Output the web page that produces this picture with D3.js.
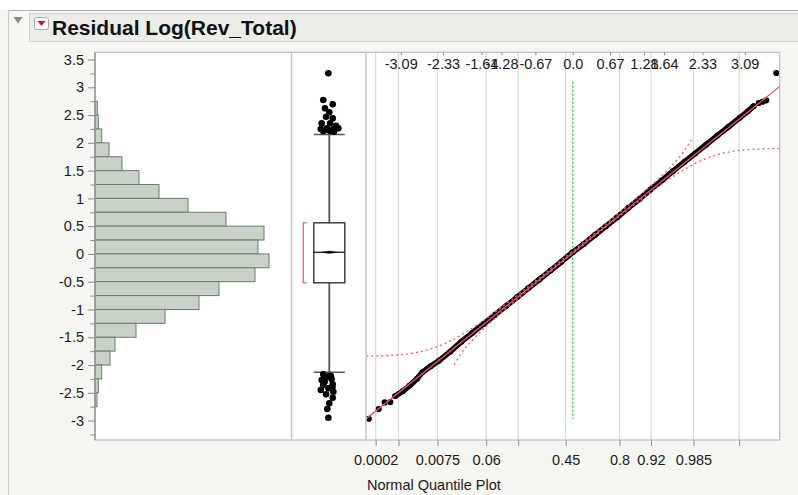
<!DOCTYPE html>
<html><head><meta charset="utf-8">
<script src="https://cdn.jsdelivr.net/npm/d3@7"></script>
<style>
html,body{margin:0;padding:0;background:#f6f6f2;}
svg{display:block;}
text{font-family:"Liberation Sans",Arial,Helvetica,sans-serif;}
</style></head><body>
<svg id="chart" width="798" height="495"></svg>
<script>
// ---------------- data ----------------
const title = "Residual Log(Rev_Total)";
const xAxisTitle = "Normal Quantile Plot";

const yTickValues = [3.5,3,2.5,2,1.5,1,0.5,0,-0.5,-1,-1.5,-2,-2.5,-3];
const yTickLabels = ["3.5","3","2.5","2","1.5","1","0.5","0","-0.5","-1","-1.5","-2","-2.5","-3"];
const yMinorTicks = [3.25,2.75,2.25,1.75,1.25,0.75,0.25,-0.25,-0.75,-1.25,-1.75,-2.25,-2.75,-3.25];

const histBinStart = [2.5,2.25,2,1.75,1.5,1.25,1,0.75,0.5,0.25,0,-0.25,-0.5,-0.75,-1,-1.25,-1.5,-1.75,-2,-2.25,-2.5,-2.75];
const histCounts   = [2.3,3.3,6.7,14,27,44,64,93,131,169,163,174,160,124,104,70,41,20,15,6.7,3.3,2];
const binWidth = 0.25;

// lower whisker, Q1, median, Q3, upper whisker
const boxStats = [-2.13,-0.52,0.03,0.56,2.15];
const shortestHalf = [-0.52,0.56];
const outlierValues = [3.252,2.771,2.693,2.621,2.549,2.470,2.441,2.351,2.351,2.308,2.249,2.261,2.249,2.261,2.213,2.213,2.20,2.23,
                       -2.168,-2.193,-2.270,-2.252,-2.360,-2.348,-2.450,-2.420,-2.481,-2.528,-2.589,-2.690,-2.793,-2.949,-2.20,-2.30,-2.40,-2.22];
const outlierJitter = [-0.06,-0.39,0.22,-0.28,0,-0.21,0.22,-0.49,0.05,0.43,-0.55,-0.17,0.26,0.58,-0.39,0.05,0.3,-0.1,
                       -0.39,0,-0.49,0.15,-0.39,0.22,-0.55,-0.06,0.26,-0.21,0.22,0,-0.13,-0.06,0.1,-0.3,0.2,-0.2];

// normal quantile plot: isolated tail points and the dense run of ordered residuals
const qqTailZ = [-3.665,-3.485,-3.378,-3.277,3.342,3.41,3.478,3.658];
const qqTailV = [-2.967,-2.793,-2.673,-2.667,2.717,2.74,2.766,3.257];
const qqBandZ = [-3.19,-3.05,-2.93,-2.80,-2.70,-2.55,-2.40,-2.20,-2.00,-1.80,-1.60,-1.40,-1.20,-1.00,-0.80,-0.60,-0.40,-0.20,0,
                 0.20,0.40,0.60,0.80,1.00,1.20,1.40,1.60,1.80,2.00,2.20,2.40,2.60,2.80,3.00,3.15,3.25];
const qqBandV = [-2.56,-2.47,-2.37,-2.25,-2.13,-2.02,-1.92,-1.76,-1.58,-1.42,-1.26,-1.10,-0.94,-0.78,-0.62,-0.46,-0.30,-0.14,0.03,
                 0.18,0.34,0.50,0.66,0.83,0.99,1.16,1.32,1.49,1.65,1.81,1.97,2.13,2.29,2.45,2.57,2.66];

const fitLineZ = [-3.714,3.719];
const fitLineV = [-2.97,3.014];
const refLineZ = [0,0];
const refLineV = [-2.97,3.10];

const bandUpperZ = [-3.71,-3.25,-3.0,-2.75,-2.5,-2.25,-2.0,-1.75,-1.5,-1.0,-0.5,0,0.5,1.0,1.5,1.75,2.0,2.1,2.13];
const bandUpperV = [-1.839,-1.825,-1.805,-1.764,-1.695,-1.592,-1.457,-1.299,-1.123,-0.746,-0.352,0.051,0.459,0.876,1.315,1.558,1.849,2.002,2.056];
const bandLowerZ = [-2.13,-2.1,-2.0,-1.75,-1.5,-1.0,-0.5,0,0.5,1.0,1.5,1.75,2.0,2.25,2.5,2.75,3.0,3.25,3.71];
const bandLowerV = [-1.996,-1.942,-1.789,-1.498,-1.255,-0.816,-0.399,0.009,0.412,0.806,1.183,1.359,1.517,1.652,1.755,1.824,1.865,1.885,1.899];

const quantileTicks  = [-3.09,-2.33,-1.64,-1.28,-0.67,0,0.67,1.28,1.64,2.33,3.09];
const quantileLabels = ["-3.09","-2.33","-1.64","-1.28","-0.67","0.0","0.67","1.28","1.64","2.33","3.09"];
const probTickZ      = [-3.54,-3.13,-2.43,-1.555,-0.98,-0.126,0.842,1.405,2.17,2.99];
const probTickLabels = ["0.0002","","0.0075","0.06","","0.45","0.8","0.92","0.985",""];

(function () {
// ---------------- layout ----------------
const W = 798, H = 495;
const pTop = 52.3, pBot = 440;
const histL = 95, histR = 291.5, boxR = 366, qqR = 779.7;
const boxCx = 329.3, boxHalf = 15.5;
const tickFont = 14.5;

const svg = d3.select("#chart");
svg.append("rect").attr("width", W).attr("height", H).attr("fill", "#f6f6f2");
svg.append("rect").attr("width", W).attr("height", 10).attr("fill", "#ffffff");
svg.append("line").attr("x1", 8.5).attr("x2", W).attr("y1", 10.5).attr("y2", 10.5).attr("stroke", "#b0b0b0");
svg.append("line").attr("x1", 8.5).attr("x2", 8.5).attr("y1", 10.5).attr("y2", H).attr("stroke", "#c8c8c4");

// header
svg.append("rect").attr("x", 29.5).attr("y", 13.5).attr("width", W - 29).attr("height", 28)
  .attr("fill", "#ececE8").attr("stroke", "#d2d2ce");
svg.append("path").attr("d", "M13.5,17 L22.5,17 L18,23.5 Z").attr("fill", "#8a8a8a");
svg.append("rect").attr("x", 34.5).attr("y", 17.5).attr("width", 14).attr("height", 12).attr("rx", 2)
  .attr("fill", "#ffffff").attr("stroke", "#a8a8a8");
svg.append("path").attr("d", "M37.5,21 L45.5,21 L41.5,26 Z").attr("fill", "#d0102a");
svg.append("text").attr("x", 52).attr("y", 34.8).attr("font-size", 21).attr("font-weight", "bold")
  .attr("fill", "#111").text(title);

// scales
const y = d3.scaleLinear().domain([-3.35, 3.63]).range([pBot, pTop]);
const xh = d3.scaleLinear().domain([0, 200]).range([histL, histL + 200]);
const xq = d3.scaleLinear().domain([-3.714, 3.719]).range([boxR, qqR]);

// panel backgrounds
svg.append("rect").attr("x", histL).attr("y", pTop).attr("width", qqR - histL).attr("height", pBot - pTop)
  .attr("fill", "#ffffff");

// ---------------- histogram ----------------
svg.append("g").selectAll("rect").data(histBinStart).join("rect")
  .attr("x", xh(0))
  .attr("y", d => y(d + binWidth))
  .attr("width", (d, i) => xh(histCounts[i]) - xh(0))
  .attr("height", d => y(d) - y(d + binWidth))
  .attr("fill", "#c6d3c6").attr("stroke", "#6e7a6e").attr("stroke-width", 1);

// ---------------- box plot ----------------
const gb = svg.append("g");
gb.append("line").attr("x1", boxCx).attr("x2", boxCx).attr("y1", y(boxStats[4])).attr("y2", y(boxStats[0]))
  .attr("stroke", "#555").attr("stroke-width", 1.8);
[boxStats[0], boxStats[4]].forEach(v => {
  gb.append("line").attr("x1", boxCx - boxHalf).attr("x2", boxCx + boxHalf).attr("y1", y(v)).attr("y2", y(v))
    .attr("stroke", "#555").attr("stroke-width", 1.5);
});
gb.append("rect").attr("x", boxCx - boxHalf).attr("y", y(boxStats[3])).attr("width", boxHalf * 2)
  .attr("height", y(boxStats[1]) - y(boxStats[3])).attr("fill", "#ffffff").attr("stroke", "#333").attr("stroke-width", 1.4);
gb.append("line").attr("x1", boxCx - boxHalf).attr("x2", boxCx + boxHalf).attr("y1", y(boxStats[2])).attr("y2", y(boxStats[2]))
  .attr("stroke", "#222").attr("stroke-width", 1.3);
gb.append("path").attr("d", `M${boxCx - 10},${y(boxStats[2])} L${boxCx},${y(boxStats[2]) - 1.6} L${boxCx + 10},${y(boxStats[2])} L${boxCx},${y(boxStats[2]) + 1.6} Z`)
  .attr("fill", "#111");
// shortest half bracket
gb.append("path").attr("d", `M${boxCx - 22.5},${y(shortestHalf[1])} H${boxCx - 26} V${y(shortestHalf[0])} H${boxCx - 22.5}`)
  .attr("fill", "none").attr("stroke", "#e8637a").attr("stroke-width", 1.3);
gb.selectAll("circle").data(outlierValues).join("circle")
  .attr("cx", (d, i) => boxCx + outlierJitter[i] * boxHalf)
  .attr("cy", d => y(d)).attr("r", 3.3).attr("fill", "#000");

// ---------------- normal quantile plot ----------------
svg.append("clipPath").attr("id", "qqclip").append("rect")
  .attr("x", boxR).attr("y", pTop).attr("width", qqR - boxR).attr("height", pBot - pTop);
const gq = svg.append("g").attr("clip-path", "url(#qqclip)");
gq.selectAll("line.grid").data(probTickZ).join("line").attr("class", "grid")
  .attr("x1", d => xq(d)).attr("x2", d => xq(d)).attr("y1", pTop).attr("y2", pBot)
  .attr("stroke", "#dadada").attr("stroke-width", 1.2);
gq.append("line").attr("x1", xq(refLineZ[0])).attr("x2", xq(refLineZ[1])).attr("y1", y(refLineV[1])).attr("y2", y(refLineV[0]))
  .attr("stroke", "#33cc44").attr("stroke-width", 1.5).attr("stroke-dasharray", "2,2");

const bandPts = qqBandZ.map((z, i) => [z, qqBandV[i]]);
const lineGen = d3.line().x(d => xq(d[0])).y(d => y(d[1]));
gq.append("path").attr("d", lineGen(bandPts)).attr("fill", "none").attr("stroke", "#000")
  .attr("stroke-width", 5.6).attr("stroke-linejoin", "round").attr("stroke-linecap", "round");
gq.selectAll("circle.band").data(bandPts).join("circle").attr("class", "band")
  .attr("cx", d => xq(d[0])).attr("cy", d => y(d[1])).attr("r", 3).attr("fill", "#000");
gq.selectAll("circle.tail").data(qqTailZ).join("circle").attr("class", "tail")
  .attr("cx", d => xq(d)).attr("cy", (d, i) => y(qqTailV[i])).attr("r", 3.1).attr("fill", "#000");

gq.append("path").attr("d", lineGen(fitLineZ.map((z, i) => [z, fitLineV[i]])))
  .attr("fill", "none").attr("stroke", "#ec5068").attr("stroke-width", 1.3);
const curveGen = d3.line().x(d => xq(d[0])).y(d => y(d[1])).curve(d3.curveMonotoneX);
[[bandUpperZ, bandUpperV], [bandLowerZ, bandLowerV]].forEach(([zs, vs]) => {
  gq.append("path").attr("d", curveGen(zs.map((z, i) => [z, vs[i]])))
    .attr("fill", "none").attr("stroke", "#f06080").attr("stroke-width", 1.4).attr("stroke-dasharray", "2,3");
});

// ---------------- frames ----------------
const frame = svg.append("g").attr("fill", "none");
frame.append("rect").attr("x", histL).attr("y", pTop).attr("width", qqR - histL).attr("height", pBot - pTop)
  .attr("stroke", "#bdbdbd").attr("stroke-width", 1.2);
frame.append("line").attr("x1", histR).attr("x2", histR).attr("y1", pTop).attr("y2", pBot).attr("stroke", "#c4c4c4").attr("stroke-width", 1.5);
frame.append("line").attr("x1", boxR).attr("x2", boxR).attr("y1", pTop).attr("y2", pBot).attr("stroke", "#c4c4c4").attr("stroke-width", 1.5);

// ---------------- axes ----------------
function styleAxis(g) {
  g.select(".domain").remove();
  g.selectAll(".tick line").attr("stroke", "#8c8c8c");
  g.selectAll(".tick text").attr("fill", "#1a1a1a").attr("font-size", tickFont)
    .attr("font-family", "'Liberation Sans',Arial,sans-serif");
}
const yAxis = svg.append("g").attr("transform", `translate(${histL},0)`)
  .call(d3.axisLeft(y).tickValues(yTickValues).tickSize(7).tickPadding(4)
    .tickFormat((d, i) => yTickLabels[i]));
styleAxis(yAxis);
const yMinor = svg.append("g").attr("transform", `translate(${histL},0)`)
  .call(d3.axisLeft(y).tickValues(yMinorTicks).tickSize(4.5).tickFormat(""));
styleAxis(yMinor);
svg.append("line").attr("x1", histL).attr("x2", histL).attr("y1", pTop).attr("y2", pBot)
  .attr("stroke", "#8c8c8c").attr("stroke-width", 1.2);

const topAxis = svg.append("g").attr("transform", `translate(0,${pTop})`)
  .call(d3.axisBottom(xq).tickValues(quantileTicks).tickSize(3).tickPadding(3)
    .tickFormat((d, i) => quantileLabels[i]));
styleAxis(topAxis);

const botAxis = svg.append("g").attr("transform", `translate(0,${pBot})`)
  .call(d3.axisBottom(xq).tickValues(probTickZ).tickSize(6).tickPadding(8.5)
    .tickFormat((d, i) => probTickLabels[i]));
styleAxis(botAxis);

svg.append("text").attr("x", 367).attr("y", 490).attr("font-size", tickFont).attr("fill", "#1a1a1a").text(xAxisTitle);
})();
</script>
</body></html>
